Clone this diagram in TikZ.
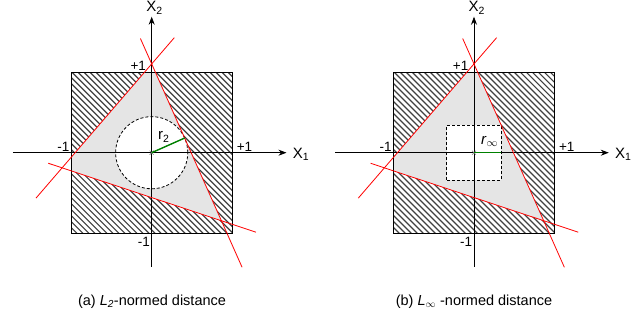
\documentclass[tikz,border=0pt]{standalone}
\usepackage{fontspec}
\setmainfont{Liberation Sans}
\usetikzlibrary{arrows.meta}
\tikzset{
  hatchline/.style={line width=1.2pt, black!75},
  redline/.style={red, line width=0.8pt},
  axisline/.style={black, line width=0.8pt, -{Stealth[length=8pt,width=6pt]}},
  boxline/.style={black, line width=0.9pt},
  dashline/.style={black, line width=0.8pt, dash pattern=on 3pt off 2pt},
  greenline/.style={green!50!black, line width=1.4pt},
  lbl/.style={inner sep=0pt, font=\fontsize{13.5}{15}\selectfont},
  axlbl/.style={inner sep=0pt, anchor=base west, font=\fontsize{15}{17}\selectfont},
  caption/.style={inner sep=0pt, anchor=base, font=\fontsize{14.5}{17}\selectfont},
}
\newcommand{\mypanel}[1]{%
  \coordinate (#1O) at (0,0);
  \coordinate (#1A) at (-1.110,-0.1876);
  \coordinate (#1B) at (0.8634,-0.8427);
  \coordinate (#1C) at (0,1.10);
  \coordinate (#1SW) at (-1,-1);
  \coordinate (#1NE) at (1,1);
  \begin{scope}
    \clip (#1SW) rectangle (#1NE);
    \foreach \i in {0,...,56} {\draw[hatchline] (-3+\i*0.0744,1) -- ++(2,-2);}
    \fill[black!10] (#1A) -- (#1B) -- (#1C) -- cycle;
  \end{scope}
}
\newcommand{\mypanelb}[1]{%
  % axes
  \coordinate (#1xs) at (-1.72,0);
  \coordinate (#1xe) at (1.67,0);
  \coordinate (#1ys) at (0,-1.415);
  \coordinate (#1ye) at (0,1.685);
  \draw[axisline] (#1xs) -- (#1xe);
  \draw[axisline] (#1ys) -- (#1ye);
  % square border
  \draw[boxline] (#1SW) rectangle (#1NE);
  % red lines
  \coordinate (#1L1a) at (-1.434,-0.563);
  \coordinate (#1L1b) at (0.28,1.425);
  \coordinate (#1L2a) at (-0.14,1.415);
  \coordinate (#1L2b) at (1.12,-1.42);
  \coordinate (#1L3a) at (-1.281,-0.131);
  \coordinate (#1L3b) at (1.292,-0.985);
  \draw[redline] (#1L1a) -- (#1L1b);
  \draw[redline] (#1L2a) -- (#1L2b);
  \draw[redline] (#1L3a) -- (#1L3b);
  % origin mark
  \draw[black!50, line width=0.6pt] (-0.025,-0.025) -- (0.025,0.025) (-0.025,0.025) -- (0.025,-0.025);
  % labels
  \node[lbl] (#1pt) at (-0.166,1.076) {+1};
  \node[lbl] (#1ml) at (-1.095,0.077) {-1};
  \node[lbl] (#1pr) at (1.150,0.077) {+1};
  \node[lbl] (#1mb) at (-0.098,-1.107) {-1};
  \node[axlbl] (#1X1) at (1.747,-0.07) {X\textsubscript{1}};
  \node[axlbl] (#1X2) at (-0.07,1.745) {X\textsubscript{2}};
}
\begin{document}
\begin{tikzpicture}[x=1pt,y=-1pt]
\useasboundingbox (0,0) rectangle (641,322);
% ---- left panel
\begin{scope}[shift={(151.7,152.7)}, x=80.7pt, y=80.7pt]
  \mypanel{l}
  \fill[white] (lO) circle (0.447);
  \draw[dashline] (lO) circle (0.447);
  \mypanelb{l}
  \coordinate (lT) at (0.408,0.1815);
  \draw[greenline] (lO) -- (lT);
  \node[inner sep=0pt, anchor=base west, font=\fontsize{15}{17}\selectfont] (lr) at (0.078,0.16) {r\textsubscript{2}};
\end{scope}
% ---- right panel
\begin{scope}[shift={(474,152.7)}, x=80.7pt, y=80.7pt]
  \mypanel{r}
  \coordinate (rq1) at (-0.338,-0.338);
  \coordinate (rq2) at (0.338,0.338);
  \fill[white] (rq1) rectangle (rq2);
  \draw[dashline] (rq1) rectangle (rq2);
  \mypanelb{r}
  \coordinate (rT) at (0.338,0);
  \draw[greenline] (rO) -- (rT);
  \node[inner sep=0pt, anchor=base west, font=\fontsize{15}{17}\selectfont] (rr) at (0.087,0.105) {\textit{r}\textsubscript{$\infty$}};
\end{scope}
% captions
\node[caption] (capa) at (152,305) {(a) \textit{L}\textsubscript{\textit{2}}-normed distance};
\node[caption] (capb) at (474,305) {(b) \textit{L}\textsubscript{$\infty$} -normed distance};
\end{tikzpicture}
\end{document}
